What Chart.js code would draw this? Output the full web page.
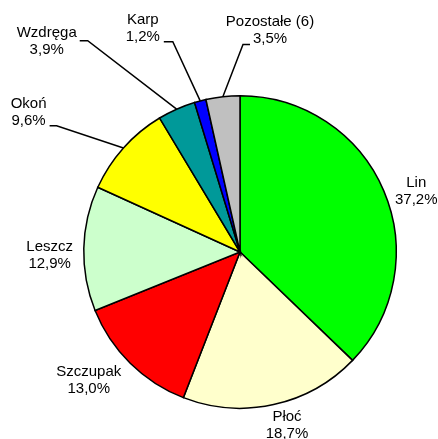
<!DOCTYPE html>
<html>
<head>
<meta charset="utf-8">
<script src="https://cdn.jsdelivr.net/npm/chart.js@4"></script>
<style>
  html, body { margin: 0; padding: 0; background: #fff; }
  #wrap { width: 438px; height: 439px; position: relative; }
</style>
</head>
<body>
<div id="wrap"><canvas id="c" width="438" height="439"></canvas></div>
<script>
// ---- data ----
const categories = ["Lin", "Płoć", "Szczupak", "Leszcz", "Okoń", "Wzdręga", "Karp", "Pozostałe (6)"];
const shares = [37.2, 18.7, 13.0, 12.9, 9.6, 3.9, 1.2, 3.5];
const sliceColors = ["#00FF00", "#FFFFCC", "#FF0000", "#CCFFCC", "#FFFF00", "#009999", "#0000FF", "#C0C0C0"];

// ---- label layout (in units of pie radius, relative to pie centre) ----
const labelPlace = [
  [1.128, -0.391], [0.301, 1.109], [-0.968, 0.821], [-1.218, 0.019],
  [-1.353, -0.891], [-1.237, -1.346], [-0.622, -1.429], [0.192, -1.417]
];
// leader tick (pixel offsets from label centre): [x1, y1, x2, y2] ; null = no leader
const leaderTick = [
  null, null, null, null,
  [21, 13, 28, 13],
  [33, -1, 41, -1],
  [21, 13, 30, 13],
  [-20, 14, -27, 14]
];

const labelPlugin = {
  id: 'pieLabels',
  afterDatasetsDraw(chart) {
    const ctx = chart.ctx;
    const meta = chart.getDatasetMeta(0);
    ctx.save();
    ctx.font = '15px "Liberation Sans", Arial, sans-serif';
    ctx.fillStyle = '#000';
    ctx.textAlign = 'center';
    ctx.textBaseline = 'middle';
    meta.data.forEach((arc, i) => {
      const p = arc.getProps(['x', 'y', 'startAngle', 'endAngle', 'outerRadius'], true);
      const R = p.outerRadius;
      const mid = (p.startAngle + p.endAngle) / 2;
      const ex = p.x + Math.cos(mid) * R;
      const ey = p.y + Math.sin(mid) * R;
      const lx = p.x + labelPlace[i][0] * R;
      const ly = p.y + labelPlace[i][1] * R;
      const pct = shares[i].toFixed(1).replace('.', ',') + '%';
      ctx.fillText(categories[i], lx, ly - 8.5);
      ctx.fillText(pct, lx, ly + 8.5);
      const t = leaderTick[i];
      if (t) {
        ctx.beginPath();
        ctx.strokeStyle = '#000';
        ctx.lineWidth = 1.5;
        ctx.moveTo(lx + t[0], ly + t[1]);
        ctx.lineTo(lx + t[2], ly + t[3]);
        ctx.lineTo(ex, ey);
        ctx.stroke();
      }
    });
    ctx.restore();
  }
};

new Chart(document.getElementById('c'), {
  type: 'pie',
  data: {
    labels: categories,
    datasets: [{
      data: shares,
      backgroundColor: sliceColors,
      borderColor: '#000',
      borderWidth: 1.5,
      borderJoinStyle: 'miter'
    }]
  },
  options: {
    responsive: false,
    animation: false,
    layout: { padding: { left: 83, right: 41, top: 95, bottom: 30 } },
    plugins: {
      legend: { display: false },
      tooltip: { enabled: false }
    }
  },
  plugins: [labelPlugin]
});
</script>
</body>
</html>
